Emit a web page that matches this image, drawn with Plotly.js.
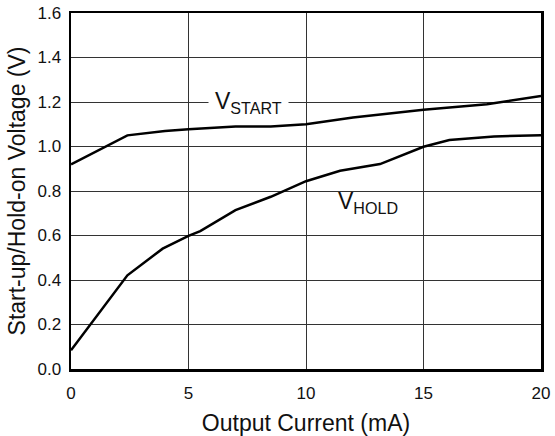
<!DOCTYPE html>
<html>
<head>
<meta charset="utf-8">
<script src="https://cdn.plot.ly/plotly-3.0.1.min.js"></script>
<style>html,body{margin:0;padding:0;background:#fff;}#chart{width:555px;height:436px;}</style>
</head>
<body>
<div id="chart"></div>
<script>
// Output current (mA) and voltages (V)
const startX = [0, 2.4, 4, 5, 7, 8.5, 10, 12, 15, 16.5, 17.7, 20];
const startY = [0.92, 1.05, 1.07, 1.078, 1.09, 1.09, 1.10, 1.13, 1.165, 1.18, 1.19, 1.227];
const holdX = [0, 2.4, 3.9, 5, 5.5, 7, 8.5, 10, 11.45, 13.15, 15, 16.1, 18, 20];
const holdY = [0.084, 0.421, 0.541, 0.598, 0.62, 0.714, 0.774, 0.844, 0.891, 0.921, 0.999, 1.029, 1.045, 1.051];
const xTicks = [0, 5, 10, 15, 20];
const yTicks = [0, 0.2, 0.4, 0.6, 0.8, 1.0, 1.2, 1.4, 1.6];
const yTickText = ['0.0', '0.2', '0.4', '0.6', '0.8', '1.0', '1.2', '1.4', '1.6'];

const font = 'Liberation Sans, Arial, Helvetica, sans-serif';

const traces = [
  {x: startX, y: startY, mode: 'lines', line: {color: '#000', width: 2.5}, hoverinfo: 'skip', showlegend: false},
  {x: holdX, y: holdY, mode: 'lines', line: {color: '#000', width: 2.5}, hoverinfo: 'skip', showlegend: false}
];

const layout = {
  width: 555, height: 436,
  margin: {l: 71, r: 14, t: 13, b: 67},
  paper_bgcolor: '#fff', plot_bgcolor: '#fff',
  font: {family: font, color: '#111', size: 17},
  xaxis: {
    range: [0, 20], tickvals: xTicks, ticktext: xTicks.map(String),
    showgrid: true, gridcolor: '#333', gridwidth: 1,
    zeroline: false, showline: true, linecolor: '#000', linewidth: 2.5, mirror: true,
    ticks: '', ticklabelstandoff: 7,
    tickfont: {size: 17, family: font},
    title: {text: 'Output Current (mA)', font: {size: 23, family: font}, standoff: 13}
  },
  yaxis: {
    range: [0, 1.6], tickvals: yTicks, ticktext: yTickText,
    showgrid: true, gridcolor: '#333', gridwidth: 1,
    zeroline: false, showline: true, linecolor: '#000', linewidth: 2.5, mirror: true,
    ticks: '', ticklabelstandoff: 4,
    tickfont: {size: 17, family: font},
    title: {text: 'Start-up/Hold-on Voltage (V)', font: {size: 23, family: font}, standoff: 6}
  },
  annotations: [
    {x: 7.55, y: 1.2, xref: 'x', yref: 'y', text: 'V<sub>START</sub>', showarrow: false,
     font: {size: 23, family: font, color: '#111'}, bgcolor: '#fff', borderpad: 6},
    {x: 12.65, y: 0.75, xref: 'x', yref: 'y', text: 'V<sub>HOLD</sub>', showarrow: false,
     font: {size: 23, family: font, color: '#111'}}
  ]
};

Plotly.newPlot('chart', traces, layout, {staticPlot: true, displayModeBar: false});
</script>
</body>
</html>
